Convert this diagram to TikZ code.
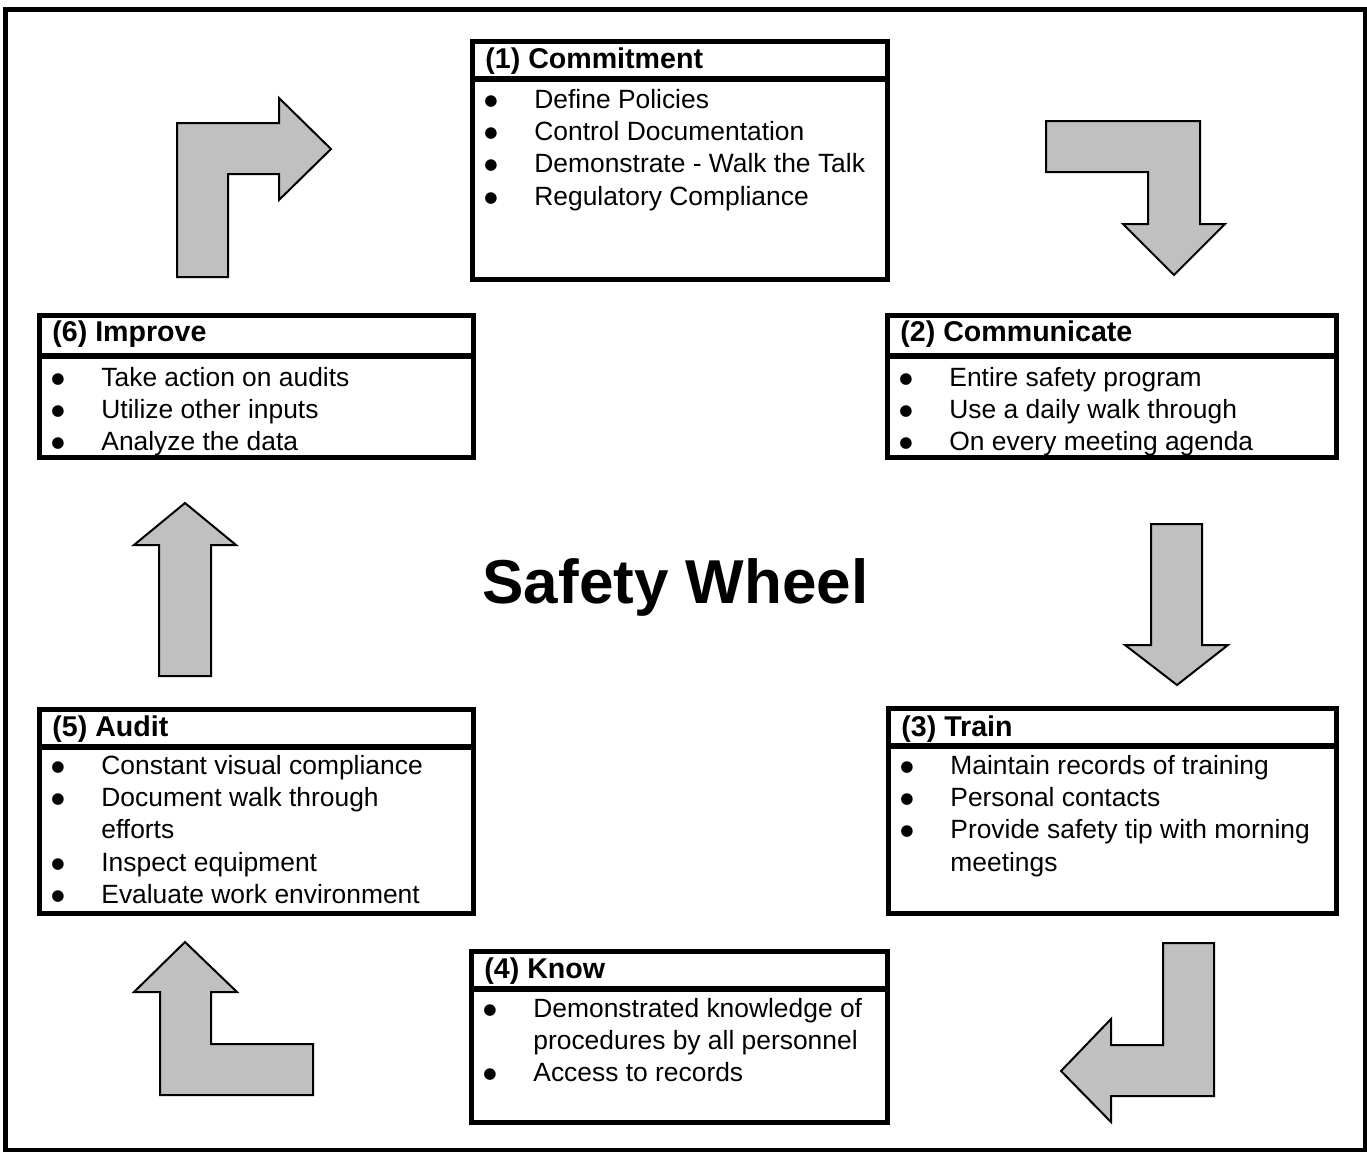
\documentclass[tikz,border=0pt]{standalone}
\usepackage{fontspec}
\setmainfont{Liberation Sans}
\newfontfamily\bulletfont{DejaVu Sans}
\newdimen\PX \PX=0.5pt
\definecolor{arrowgray}{RGB}{192,192,192}
\newcommand\bl{\makebox[64\PX][l]{\hspace*{14\PX}\raisebox{1.5pt}{\bulletfont\fontsize{7.6}{7.6}\selectfont ●}}}
\newcommand\safetybox[6]{%
  \node[boxline, draw, inner sep=0pt, anchor=north west,
        minimum width={(#4-#2)*0.5pt}, minimum height={(#5-#3)*0.5pt}] (#1) at (#2,#3) {};
  \draw[boxline] (#2,#6) -- (#4,#6);
}
\tikzset{
  boxline/.style={line width=2.7pt},
  frameline/.style={line width=2.5pt},
  arrowshape/.style={fill=arrowgray, draw=black, line width=1pt, line join=miter},
  hdr/.style={anchor=base west, inner sep=0pt, font=\fontsize{14.3}{17}\selectfont\bfseries},
  body/.style={anchor=base west, inner sep=0pt, font=\fontsize{13.2}{16.2}\selectfont},
  ttl/.style={anchor=base, inner sep=0pt, font=\fontsize{31}{36}\selectfont\bfseries},
}
\begin{document}
\begin{tikzpicture}[x=0.5pt, y=-0.5pt]
\useasboundingbox (0,0) rectangle (1367,1152);
% outer frame
\draw[frameline] (5.5,9) rectangle (1365,1150);

% boxes
\safetybox{box1}{470}{39}{885}{277}{79}
\safetybox{box2}{885}{313}{1334}{455}{356}
\safetybox{box3}{886}{706}{1334}{911}{746}
\safetybox{box4}{469}{949}{885}{1120}{989}
\safetybox{box5}{37}{707}{471}{911}{747}
\safetybox{box6}{37}{313}{471}{455}{356}

% headers
\node[hdr] (h1) at (485,68) {(1) Commitment};
\node[hdr] (h2) at (900,341) {(2) Communicate};
\node[hdr] (h3) at (901,736) {(3) Train};
\node[hdr] (h4) at (484,978) {(4) Know};
\node[hdr] (h5) at (52,736) {(5) Audit};
\node[hdr] (h6) at (52,341) {(6) Improve};

% bodies
\node[body] (t1) at (470,108) {\begin{tabular}[t]{@{}l@{}l@{}}
\bl & Define Policies\\
\bl & Control Documentation\\
\bl & Demonstrate - Walk the Talk\\
\bl & Regulatory Compliance
\end{tabular}};
\node[body] (t2) at (885,386) {\begin{tabular}[t]{@{}l@{}l@{}}
\bl & Entire safety program\\
\bl & Use a daily walk through\\
\bl & On every meeting agenda
\end{tabular}};
\node[body] (t3) at (886,774) {\begin{tabular}[t]{@{}l@{}l@{}}
\bl & Maintain records of training\\
\bl & Personal contacts\\
\bl & Provide safety tip with morning\\
    & meetings
\end{tabular}};
\node[body] (t4) at (469,1017) {\begin{tabular}[t]{@{}l@{}l@{}}
\bl & Demonstrated knowledge of\\
    & procedures by all personnel\\
\bl & Access to records
\end{tabular}};
\node[body] (t5) at (37,774) {\begin{tabular}[t]{@{}l@{}l@{}}
\bl & Constant visual compliance\\
\bl & Document walk through\\
    & efforts\\
\bl & Inspect equipment\\
\bl & Evaluate work environment
\end{tabular}};
\node[body] (t6) at (37,386) {\begin{tabular}[t]{@{}l@{}l@{}}
\bl & Take action on audits\\
\bl & Utilize other inputs\\
\bl & Analyze the data
\end{tabular}};

% title
\node[ttl] (title) at (675.5,603) {Safety Wheel};

% arrows
\draw[arrowshape] (177,277) -- (177,123) -- (279,123) -- (279,98) -- (331,149)
  -- (279,200) -- (279,174) -- (228,174) -- (228,277) -- cycle;
\draw[arrowshape] (1046,121) -- (1200,121) -- (1200,224) -- (1225,224) -- (1174,275)
  -- (1123,224) -- (1148,224) -- (1148,172) -- (1046,172) -- cycle;
\draw[arrowshape] (1151,524) -- (1202,524) -- (1202,645) -- (1228,645) -- (1177,685)
  -- (1125,645) -- (1151,645) -- cycle;
\draw[arrowshape] (1163,943) -- (1214,943) -- (1214,1096) -- (1111,1096) -- (1111,1122)
  -- (1061,1071) -- (1111,1019) -- (1111,1045) -- (1163,1045) -- cycle;
\draw[arrowshape] (185,942) -- (237,992) -- (211,992) -- (211,1044) -- (313,1044)
  -- (313,1095) -- (160,1095) -- (160,992) -- (134,992) -- cycle;
\draw[arrowshape] (185,503) -- (236,545) -- (211,545) -- (211,676) -- (159,676)
  -- (159,545) -- (134,545) -- cycle;
\end{tikzpicture}
\end{document}
